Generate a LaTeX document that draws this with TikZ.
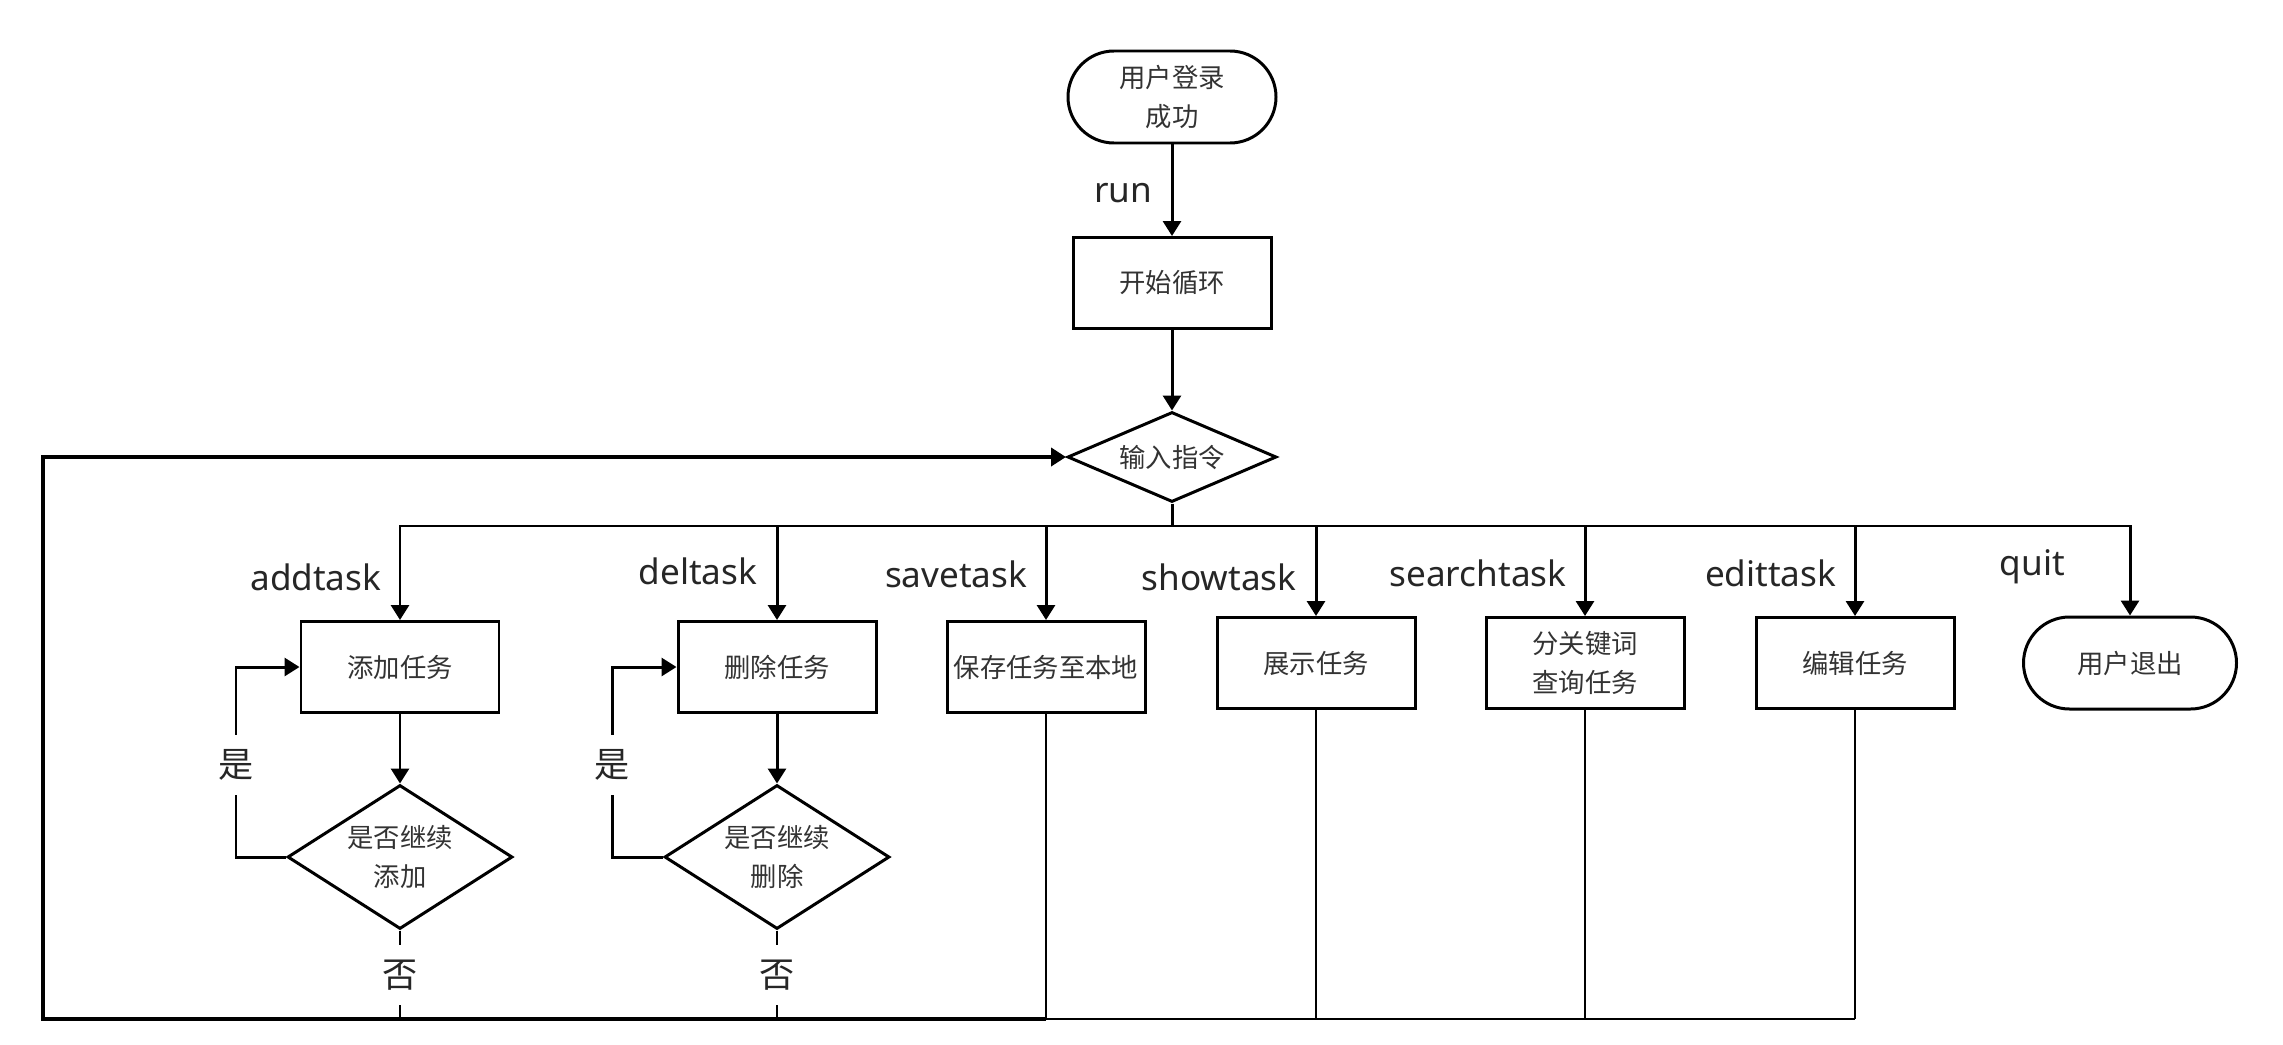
\documentclass[tikz,border=0pt]{standalone}
\usepackage{fontspec}
\setmainfont{Noto Sans}
\newfontfamily\cjk{Noto Sans CJK SC}
\definecolor{txt}{HTML}{333333}
\usetikzlibrary{arrows.meta, shapes.geometric}
\tikzset{line/.style={line width=0.85pt, black},
  thinline/.style={line width=0.65pt, black},
  loopline/.style={line width=1.3pt, black},
  arr/.style={-{Triangle[length=0.15cm,width=0.18cm]}},
  box/.style={draw, rectangle, line width=0.85pt, minimum width=1.98cm, minimum height=0.91cm, text=txt, align=center, font=\cjk\fontsize{7.5}{11.2}\selectfont},
  term/.style={box, rounded corners=0.46cm},
  decide/.style={draw, diamond, aspect=1.6, inner sep=0pt, line width=0.85pt, minimum width=2.25cm, minimum height=1.44cm, text=txt, align=center, font=\cjk\fontsize{7.5}{11.2}\selectfont},
  lbl/.style={text=black!85, inner sep=0pt, font=\fontsize{10}{12}\selectfont},
  yn/.style={lbl, font=\cjk\fontsize{10}{12}\selectfont, fill=white, inner xsep=1pt, inner ysep=0.15cm}}

\begin{document}
\begin{tikzpicture}
\useasboundingbox (0,0) rectangle (22.83,-10.45);
\node[term,minimum width=2.08cm,minimum height=0.92cm] (login) at (11.72,-0.97) {用户登录\\成功};
\node[box] (loop) at (11.72,-2.83) {开始循环};
\node[decide,aspect=2.3,minimum width=2.09cm,minimum height=0.90cm] (cmd) at (11.72,-4.57) {输入指令};
\node[box] (add) at (4.00,-6.67) {添加任务};
\node[box] (del) at (7.77,-6.67) {删除任务};
\node[box,inner xsep=0.04cm] (save) at (10.46,-6.67) {保存任务至本地};
\node[box] (show) at (13.16,-6.63) {展示任务};
\node[box] (search) at (15.85,-6.63) {分关键词\\查询任务};
\node[box] (edit) at (18.55,-6.63) {编辑任务};
\node[term,minimum width=2.13cm,minimum height=0.92cm] (quit) at (21.30,-6.63) {用户退出};
\node[decide] (addq) at (4.00,-8.57) {是否继续\\添加};
\node[decide] (delq) at (7.77,-8.57) {是否继续\\删除};
\coordinate (bus) at (11.72,-5.26);
\coordinate (back) at (0.43,-10.19);

\node[lbl,anchor=base east] (run) at (11.53,-2.02) {run};
\foreach \x/\y/\t in {3.82/5.90/addtask,7.58/5.84/deltask,10.28/5.87/savetask,12.97/5.90/showtask,15.67/5.86/searchtask,18.37/5.86/edittask}
	\node[lbl,anchor=base east] (\t) at (\x,-\y) {\t};
\node[lbl,anchor=base west] (quitlbl) at (19.99,-5.75) {quit};

\draw[line,arr] (login) -- (loop);
\draw[line,arr] (loop) -- (cmd);
\draw[line] (cmd.south) -- (bus);
\foreach \n in {add,del,save,show,search,edit,quit}
	\draw[line,arr] (bus) -| (\n.north);
\draw[line,arr] (add) -- (addq);
\draw[line,arr] (del) -- (delq);
\draw[line,arr] (addq.west) -| (2.36,-7.65) node[yn] (yes1) {是} |- (add.west);
\draw[line,arr] (delq.west) -| (6.12,-7.65) node[yn] (yes2) {是} |- (del.west);
\draw[thinline] (addq.south) -- (addq.south |- back) node[yn,pos=0.5] (no1) {否};
\draw[thinline] (delq.south) -- (delq.south |- back) node[yn,pos=0.5] (no2) {否};

\foreach \n in {save,show,search,edit}
	\draw[thinline] (\n.south) -- (\n.south |- back);
\draw[thinline] (save.south |- back) -- (edit.south |- back);
\draw[loopline,arr] (save.south |- back) -- (back) |- (cmd.west);
\end{tikzpicture}
\end{document}
